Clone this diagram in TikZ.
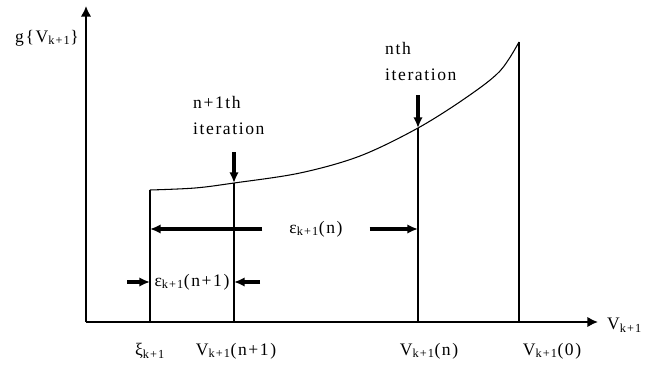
\documentclass[tikz,border=0pt]{standalone}
\usepackage{fontspec}
\setmainfont{Liberation Serif}[LetterSpace=9]
\usepackage{tikz}
\usetikzlibrary{arrows.meta, positioning, calc}

\begin{document}
\begin{tikzpicture}[
    x=0.03cm, y=-0.03cm,
    axis/.style={line width=2.4pt, -{Latex[length=9pt,width=9pt]}},
    level/.style={line width=1.3pt},
    dim/.style={line width=2.6pt, -{Latex[length=9pt,width=8pt]}},
    lbl/.style={font=\fontsize{15}{20}\selectfont, inner sep=0pt},
    note/.style={lbl, align=left, anchor=north west, font=\fontsize{15}{22}\selectfont}
]
\useasboundingbox (0,0) rectangle (656,367);

% axes
\coordinate (O) at (86,322);
\coordinate (ytop) at (86,6);
\coordinate (xend) at (598,322);
\draw[axis] (O) -- (ytop);
\draw[axis] (O) -- (xend);
\node[lbl, anchor=east] (ylab) at (79,38) {g\{V\textsubscript{k+1}\}};
\node[lbl, anchor=west] (xlab) at (607,325) {V\textsubscript{k+1}};

% points of the curve
\coordinate (xi) at (150,190);
\coordinate (pn1) at (234,183);
\coordinate (pn) at (418,128);
\coordinate (p0) at (519,42);

\draw[line width=0.9pt] plot[smooth, tension=0.55] coordinates {
    (150,190) (195,188) (234,183) (300,173) (360,156) (418,128)
    (467,97) (500,71) (519,42)};

% vertical lines down to the axis
\foreach \p in {xi,pn1,pn,p0}
    \draw[level] (\p) -- (\p |- O);

% labels under the axis
\node[lbl] (lxi) at (150,351) {ξ\textsubscript{k+1}};
\node[lbl] (lvn1) at (236,351) {V\textsubscript{k+1}(n+1)};
\node[lbl] (lvn) at (429,351) {V\textsubscript{k+1}(n)};
\node[lbl] (lv0) at (552,351) {V\textsubscript{k+1}(0)};

% widths of the steps
\node[lbl, minimum width=107*0.03cm] (epsn) at (316,229) {ε\textsubscript{k+1}(n)};
\draw[dim] (epsn.west) -- (epsn.west -| xi);
\draw[dim] (epsn.east) -- (epsn.east -| pn);

\node[lbl] (epsn1) at (192,282) {ε\textsubscript{k+1}(n+1)};
\coordinate (a1) at (127,282);
\coordinate (a2) at (260,282);
\draw[dim] (a1) -- (a1 -| xi);
\draw[dim] (a2) -- (a2 -| pn1);

% iterations
\node[note] (it1) at (193,96) {n+1th\\iteration};
\coordinate (it1tip) at (234,152);
\draw[dim] (it1tip) -- (pn1);

\node[note] (it) at (385,42) {nth\\iteration};
\coordinate (ittip) at (418,95);
\draw[dim] (ittip) -- (pn);

\end{tikzpicture}
\end{document}
